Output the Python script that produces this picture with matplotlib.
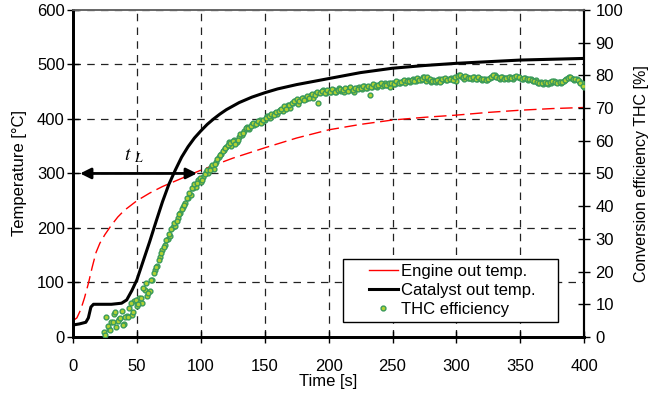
import numpy as np
import matplotlib
matplotlib.use("Agg")
import matplotlib.pyplot as plt
from matplotlib.lines import Line2D
from matplotlib.legend_handler import HandlerLine2D

plt.rcParams['font.family'] = ['Liberation Sans', 'DejaVu Sans']

# engine out temperature [degC]
t_engine = [0, 3, 6, 9, 12, 15, 18, 21, 25, 30, 35, 40, 50, 60, 70, 80, 90, 100,
            125, 150, 175, 200, 225, 250, 275, 300, 325, 350, 375, 400]
T_engine = [30, 35, 50, 72, 98, 128, 155, 172, 188, 205, 220, 232, 250, 264, 276, 286, 296, 306,
            328, 347, 365, 380, 390, 398, 403, 407, 412, 416, 419, 421]

# catalyst out temperature [degC]
t_cat = [0, 5, 10, 12, 14, 16, 20, 30, 38, 42, 46, 50, 55, 60, 65, 70, 75, 80, 85, 90, 95,
         100, 105, 110, 115, 120, 130, 140, 150, 160, 175, 200, 225, 250, 275, 300, 350, 400]
T_cat = [22, 24, 27, 35, 55, 60, 60, 60, 62, 68, 85, 105, 140, 175, 212, 248, 280, 306, 330, 349, 365,
         378, 390, 400, 409, 417, 430, 440, 448, 455, 463, 474, 485, 493, 498, 502, 508, 511]

# THC conversion efficiency [%], even seconds from 24 s
t_eff_even = np.arange(24, 401, 2)
eff_even = [1.5, 6.0, 2.5, 4.5, 7.0, 3.0, 5.5, 8.0, 4.0, 6.5,
            9.0, 6.8, 11.0, 9.5, 12.0, 10.5, 14.5, 12.5, 14.0, 17.5,
            20.5, 21.8, 24.5, 26.5, 28.0, 30.0, 31.0, 33.5, 34.0, 36.5,
            38.0, 39.8, 41.0, 42.5, 43.5, 45.5, 46.0, 48.0, 47.5, 49.0,
            50.5, 50.0, 52.0, 51.5, 53.6, 55.0, 56.0, 57.2, 58.0, 59.5,
            58.5, 60.2, 59.5, 61.0, 61.8, 63.0, 64.3, 63.5, 65.0, 64.8,
            65.4, 66.2, 65.8, 66.4, 67.5, 67.0, 67.9, 68.5, 68.2, 69.4,
            69.0, 70.2, 70.8, 70.0, 71.5, 72.0, 71.2, 72.5, 73.2, 72.8,
            73.5, 74.0, 73.2, 74.5, 71.5, 74.8, 75.5, 74.6, 75.2, 74.8,
            75.5, 75.0, 76.0, 75.2, 74.8, 75.8, 76.2, 75.5, 75.0, 76.0,
            76.5, 75.8, 76.8, 76.2, 74.0, 76.5, 77.0, 76.4, 77.2, 76.8,
            77.5, 77.0, 76.4, 77.8, 77.2, 78.0, 77.5, 78.3, 77.6, 78.5,
            78.0, 78.8, 78.2, 79.0, 78.6, 79.6, 78.4, 78.9, 78.0, 78.6,
            78.0, 78.8, 78.3, 79.0, 78.5, 78.9, 79.2, 78.6, 78.4, 80.1,
            79.5, 79.0, 79.6, 79.1, 78.8, 79.5, 78.9, 79.3, 78.6, 79.0,
            78.6, 79.2, 79.6, 80.1, 79.4, 78.9, 79.5, 79.1, 78.8, 79.4,
            79.0, 79.5, 79.6, 79.2, 78.8, 79.3, 78.6, 78.9, 78.2, 78.6,
            77.6, 78.0, 77.4, 77.8, 77.2, 77.6, 78.3, 77.9, 78.1, 77.5,
            78.4, 78.9, 79.6, 79.2, 78.6, 79.0, 78.4, 77.5, 76.5]

# odd seconds from 25 s
t_eff_odd = np.arange(25, 400, 2)
eff_odd = [0.6, 3.5, 2.0, 4.7, 7.5, 5.0, 5.7, 3.7, 6.0, 6.2,
           10.3, 7.7, 11.3, 10.0, 11.8, 14.9, 16.4, 13.3, 17.4, 19.5,
           21.5, 23.5, 25.6, 27.6, 29.7, 31.5, 33.0, 34.8, 35.5, 37.5,
           39.0, 40.5, 42.4, 44.0, 45.5, 46.8, 47.2, 48.5, 48.0, 49.8,
           51.0, 51.2, 52.5, 53.0, 54.5, 55.5, 56.8, 57.8, 58.8, 59.2,
           60.0, 59.0, 60.2, 62.0, 62.5, 63.8, 64.0, 64.5, 65.5, 65.0,
           66.0, 65.5, 66.4, 66.8, 67.6, 68.2, 67.9, 68.9, 69.0, 69.8,
           70.5, 69.8, 71.0, 71.5, 72.0, 72.8, 72.2, 73.0, 72.5, 73.8,
           73.0, 74.2, 74.0, 74.8, 74.5, 75.2, 74.6, 75.4, 75.0, 75.8,
           75.0, 75.6, 75.8, 75.4, 76.0, 75.2, 76.4, 75.5, 76.2, 75.8,
           76.0, 76.6, 76.0, 76.8, 76.5, 77.2, 76.8, 77.0, 77.5, 77.0,
           77.0, 77.6, 77.8, 77.4, 78.2, 77.8, 78.0, 78.6, 78.2, 78.4,
           78.6, 78.4, 79.2, 78.6, 79.0, 79.4, 79.6, 79.0, 78.4, 78.2,
           78.6, 78.0, 78.8, 79.2, 78.6, 78.8, 78.6, 79.4, 79.8, 80.1,
           79.4, 79.8, 79.2, 79.1, 79.6, 78.8, 79.4, 79.0, 78.8, 78.6,
           79.0, 79.4, 80.0, 79.6, 79.2, 79.6, 79.0, 79.1, 79.6, 79.2,
           79.4, 79.8, 79.5, 79.0, 79.2, 78.8, 79.0, 78.6, 78.4, 78.0,
           77.8, 77.6, 78.0, 77.6, 78.0, 78.4, 78.0, 77.8, 78.1, 78.0,
           78.6, 79.2, 79.6, 79.0, 78.8, 78.6, 77.8, 76.8]

t_eff = np.concatenate([t_eff_even, t_eff_odd])
eff = np.concatenate([eff_even, eff_odd])

fig = plt.figure(figsize=(6.52, 3.96), dpi=100)
ax = fig.add_axes([0.112, 0.149, 0.784, 0.826])
ax2 = ax.twinx()

ax.plot(t_engine, T_engine, color="red", lw=1.0, dashes=(9, 4))
ax.plot(t_cat, T_cat, color="black", lw=2.2)
ax2.scatter(t_eff, eff, s=12, marker="o", facecolor="#b2d232", edgecolor="#3a9a5a",
            linewidths=1.0, zorder=3)

# light-off time arrow
ax.annotate("", xy=(5.5, 300), xytext=(97, 300),
            arrowprops=dict(arrowstyle="<|-|>", color="black", lw=2, mutation_scale=16,
                            shrinkA=0, shrinkB=0))
ax.text(48, 332, r"$t\ _L$", fontsize=14, math_fontfamily="stix", ha="center", va="center")

ax.set_xlim(0, 400)
ax.set_ylim(0, 600)
ax2.set_ylim(0, 100)
ax.set_xticks(range(0, 401, 50))
ax.set_yticks(range(0, 601, 100))
ax2.set_yticks(range(0, 101, 10))
ax.grid(True, color="#222222", lw=0.9, dashes=(6, 5))
ax.set_axisbelow(True)

ax.tick_params(axis="x", direction="inout", length=8, width=1, labelsize=12, pad=12)
ax.tick_params(axis="y", direction="inout", length=8, width=1, labelsize=12, pad=2)
ax2.tick_params(axis="y", direction="inout", length=8, width=1, labelsize=12, pad=4)

for a in (ax, ax2):
    a.spines["left"].set_linewidth(2)
    a.spines["bottom"].set_linewidth(2)
    a.spines["right"].set_linewidth(1.5)
    a.spines["top"].set_color("#666666")
    a.spines["top"].set_linewidth(1.2)

ax.set_xlabel("Time [s]", fontsize=12, labelpad=0)
ax.set_ylabel("Temperature [°C]", fontsize=12, labelpad=7)
ax2.set_ylabel("Conversion efficiency THC [%]", fontsize=11.5, labelpad=8)

handles = [Line2D([], [], color="red", lw=1),
           Line2D([], [], color="black", lw=2.2),
           Line2D([], [], ls="", marker="o", ms=3.5, markerfacecolor="#b2d232",
                  markeredgecolor="#3a9a5a")]
labels = ["Engine out temp.", "Catalyst out temp.", "THC efficiency"]
leg = ax2.legend(handles, labels, loc="lower left", bbox_to_anchor=(0.528, 0.046, 0.421, 0.2),
                 mode="expand", fontsize=12, frameon=True, fancybox=False, framealpha=1,
                 edgecolor="black", handlelength=3.0, handletextpad=0.2, borderpad=0.3,
                 labelspacing=0.25, borderaxespad=0,
                 handler_map={Line2D: HandlerLine2D(xpad=1.25)})
leg.get_frame().set_linewidth(1)

fig.savefig("out.png", dpi=100)
